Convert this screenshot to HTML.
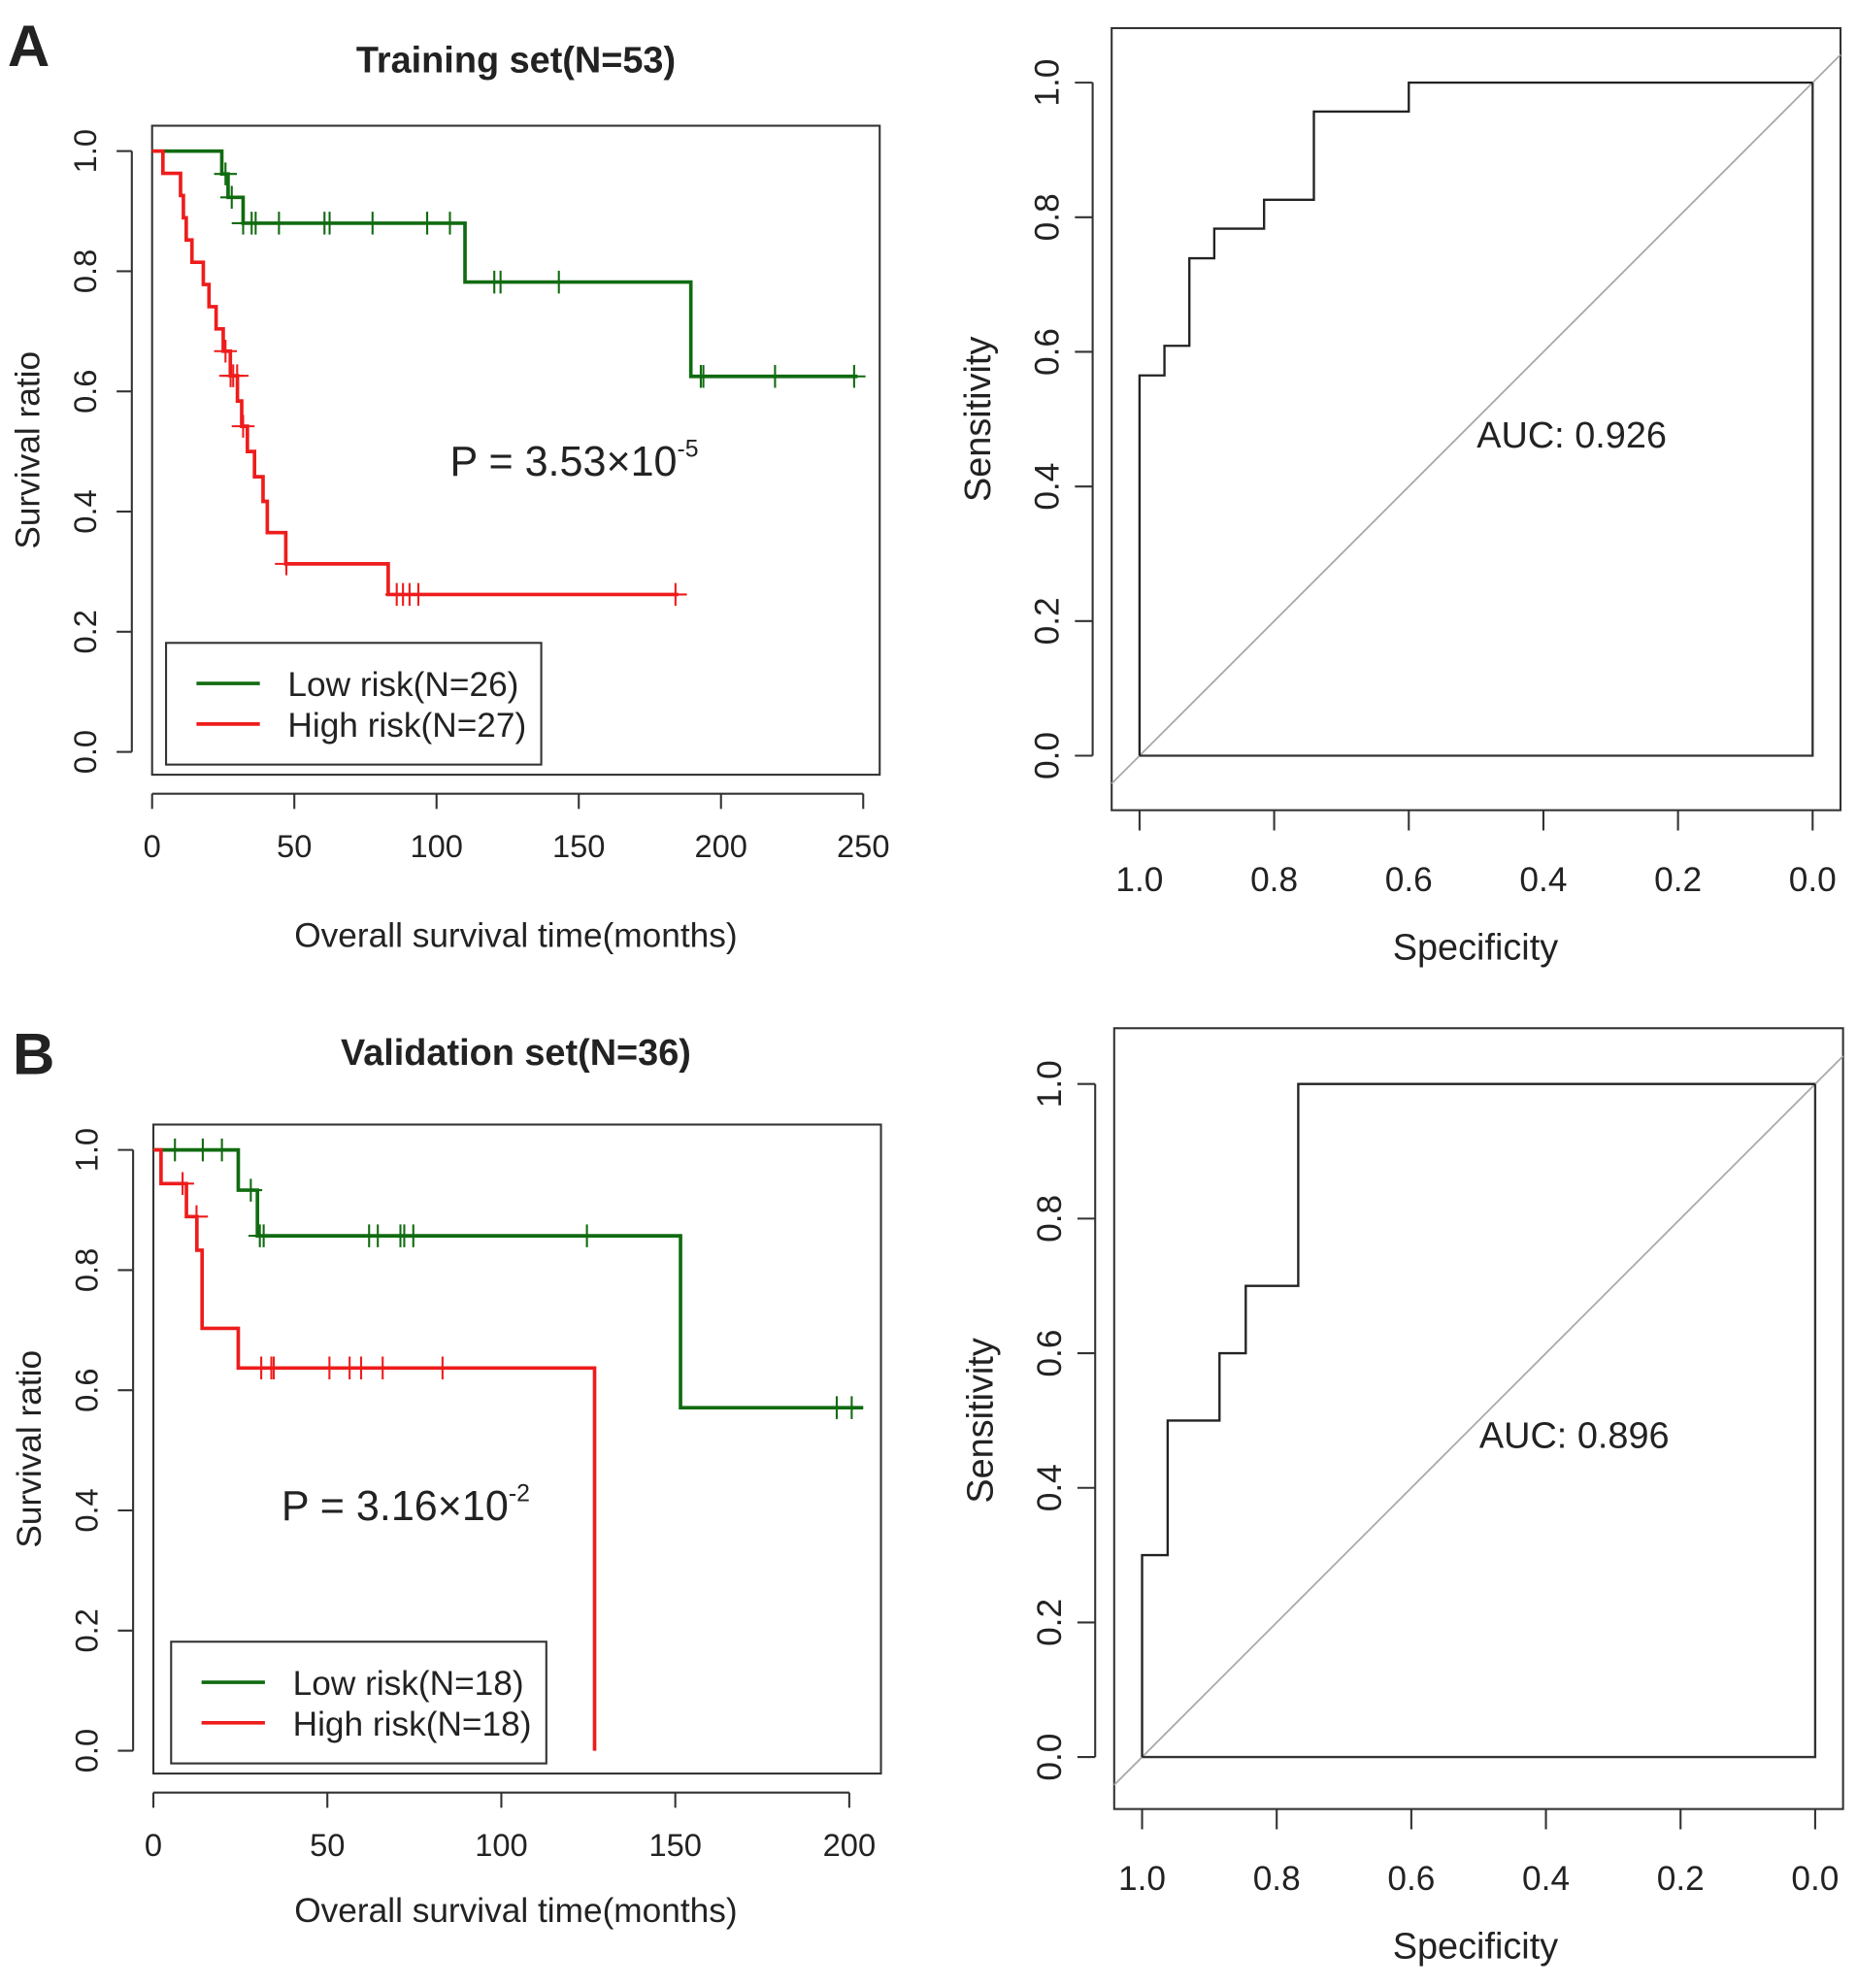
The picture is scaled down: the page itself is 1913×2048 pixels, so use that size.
<!DOCTYPE html>
<html><head><meta charset="utf-8"><style>
html,body{margin:0;padding:0;background:#fff}
svg{display:block}
text{font-family:"Liberation Sans",Arial,sans-serif;fill:#222}
</style></head><body>
<svg id="fig" width="1913" height="2048" viewBox="0 0 1465 1568" xmlns="http://www.w3.org/2000/svg"></svg>
<script>
// Panel A KM data
const kmA_lowTimes = [0, 24.5, 26.7, 32, 110, 189.4];
const kmA_lowSurv  = [1, 0.962, 0.923, 0.88, 0.782, 0.625];
const kmA_lowEnd = 248;
const kmA_lowCens = [25.8, 28, 32, 35, 36.4, 44.6, 60.6, 62.4, 77.5, 96.7, 104.7, 120.3, 122.5, 143, 192.9, 193.8, 219, 246.8];
const kmA_highTimes = [0, 3.8, 10, 11, 12, 14, 18, 20, 22.5, 25, 27.5, 30, 31.5, 33.5, 36, 39, 40.5, 47, 83];
const kmA_highSurv  = [1, 0.963, 0.926, 0.889, 0.852, 0.815, 0.778, 0.741, 0.704, 0.667, 0.626, 0.584, 0.542, 0.5, 0.458, 0.417, 0.365, 0.313, 0.262];
const kmA_highEnd = 185;
const kmA_highCens = [25.8, 27.6, 28.5, 29.9, 32, 47.2, 86, 88.2, 90.5, 93.6, 184];
const kmA_xTicks = [0, 50, 100, 150, 200, 250];
const kmYTicks = [0, 0.2, 0.4, 0.6, 0.8, 1.0];
// Panel B KM data
const kmB_lowTimes = [0, 24.4, 29.9, 151.5];
const kmB_lowSurv  = [1, 0.933, 0.857, 0.571];
const kmB_lowEnd = 204;
const kmB_lowCens = [6.2, 14.2, 19.7, 28, 30.6, 31.7, 62, 64.5, 71, 72.1, 74.7, 124.6, 196.4, 200.7];
const kmB_highTimes = [0, 2.2, 9.5, 12.5, 14, 24.4, 126.8];
const kmB_highSurv  = [1, 0.944, 0.889, 0.833, 0.703, 0.637, 0];
const kmB_highEnd = 126.8;
const kmB_highCens = [8.4, 12.4, 31, 33.9, 34.6, 50.6, 56.4, 59.7, 65.9, 83.1];
const kmB_xTicks = [0, 50, 100, 150, 200];
// ROC data (specificity, sensitivity)
const rocA_spec = [1, 1, 0.963, 0.963, 0.926, 0.926, 0.889, 0.889, 0.815, 0.815, 0.741, 0.741, 0.6, 0.6, 0];
const rocA_sens = [0, 0.565, 0.565, 0.609, 0.609, 0.739, 0.739, 0.783, 0.783, 0.826, 0.826, 0.957, 0.957, 1, 1];
const rocB_spec = [1, 1, 0.962, 0.962, 0.885, 0.885, 0.846, 0.846, 0.768, 0.768, 0];
const rocB_sens = [0, 0.3, 0.3, 0.5, 0.5, 0.6, 0.6, 0.7, 0.7, 1, 1];
const rocTicks = [1.0, 0.8, 0.6, 0.4, 0.2, 0.0];

const NS = "http://www.w3.org/2000/svg";
const svg = document.getElementById('fig');
function el(tag, attrs, parent, txt) {
  const e = document.createElementNS(NS, tag);
  for (const k in attrs) e.setAttribute(k, attrs[k]);
  if (txt !== undefined) e.textContent = txt;
  (parent || svg).appendChild(e);
  return e;
}
function grp(name) {
  const g = el('g', {});
  
  
  return g;
}
function rotText(g, x, y, s, size, name) {
  const t = el('text', {x: x, y: y, 'font-size': size, 'text-anchor': 'middle', transform: 'rotate(-90 ' + x + ' ' + y + ')'}, g, s);
  
  
  return t;
}

function drawKM(p) {
  const g = grp(p.name);
  const sx = v => p.x0 + (v - 0) * (p.x1 - p.x0) / p.xmax;
  const sy = v => p.y0 - v * (p.y0 - p.y1);
  const box = el('rect', {x: p.bx, y: p.by, width: p.bw, height: p.bh, fill: 'none', stroke: '#333', 'stroke-width': 1.6}, g);
  
  
  const xa = grp('x-axis'); g.appendChild(xa);
  const axY = p.by + p.bh + 15;
  el('line', {x1: sx(p.xTicks[0]), x2: sx(p.xTicks[p.xTicks.length - 1]), y1: axY, y2: axY, stroke: '#333', 'stroke-width': 1.6}, xa);
  p.xTicks.forEach(t => {
    el('line', {x1: sx(t), x2: sx(t), y1: axY, y2: axY + 12, stroke: '#333', 'stroke-width': 1.6}, xa);
    const tl = el('text', {x: sx(t), y: axY + 50, 'font-size': 25, 'text-anchor': 'middle'}, xa, String(t));
    
    
  });
  const xt = el('text', {x: 407, y: p.xty, 'font-size': 27, 'text-anchor': 'middle'}, g, 'Overall survival time(months)');
  
  
  const ya = grp('y-axis'); g.appendChild(ya);
  const axX = p.bx - 16;
  el('line', {x1: axX, x2: axX, y1: sy(0), y2: sy(1), stroke: '#333', 'stroke-width': 1.6}, ya);
  kmYTicks.forEach(t => {
    el('line', {x1: axX - 12, x2: axX, y1: sy(t), y2: sy(t), stroke: '#333', 'stroke-width': 1.6}, ya);
    rotText(ya, axX - 28, sy(t), t.toFixed(1), 25, 'y-tick-label');
  });
  rotText(g, p.bx - 89, (p.by + p.bh / 2), 'Survival ratio', 27, 'y-axis-title');
  function series(times, surv, end, cens, color, name) {
    const sg = grp(name); g.appendChild(sg);
    let d = 'M' + sx(times[0]) + ',' + sy(surv[0]);
    for (let i = 1; i < times.length; i++) {
      d += ' H' + sx(times[i]) + ' V' + sy(surv[i]);
    }
    d += ' H' + sx(end);
    const path = el('path', {d: d, fill: 'none', stroke: color, 'stroke-width': 2.8}, sg);
    
    
    cens.forEach(c => {
      let s = surv[0];
      for (let i = 0; i < times.length; i++) if (times[i] <= c) s = surv[i];
      const m = el('path', {d: 'M' + (sx(c) - 9) + ',' + sy(s) + ' H' + (sx(c) + 9) + ' M' + sx(c) + ',' + (sy(s) - 9) + ' V' + (sy(s) + 9), stroke: color, 'stroke-width': 1.6, fill: 'none'}, sg);
      
      
    });
  }
  series(p.lowT, p.lowS, p.lowEnd, p.lowC, '#106b10', 'low-risk-series');
  series(p.highT, p.highS, p.highEnd, p.highC, '#ee1c1c', 'high-risk-series');
  const lg = grp('legend'); g.appendChild(lg);
  el('rect', {x: p.lx, y: p.ly, width: 296, height: 96, fill: '#fff', stroke: '#333', 'stroke-width': 1.6}, lg);
  el('line', {x1: p.lx + 24, x2: p.lx + 74, y1: p.ly + 32, y2: p.ly + 32, stroke: '#106b10', 'stroke-width': 2.8}, lg);
  el('line', {x1: p.lx + 24, x2: p.lx + 74, y1: p.ly + 64, y2: p.ly + 64, stroke: '#ee1c1c', 'stroke-width': 2.8}, lg);
  const l1 = el('text', {x: p.lx + 96, y: p.ly + 42, 'font-size': 27}, lg, p.lowLabel);
  
  
  const l2 = el('text', {x: p.lx + 96, y: p.ly + 74, 'font-size': 27}, lg, p.highLabel);
  
  
  const pt = el('text', {x: p.px, y: p.py, 'font-size': 33}, g);
  
  
  pt.appendChild(document.createTextNode(p.pText));
  el('tspan', {'font-size': 19, dy: -15}, pt, p.pExp);
  const tt = el('text', {x: 407, y: p.ty, 'font-size': 29, 'font-weight': 'bold', 'text-anchor': 'middle'}, g, p.title);
  
  
}

function drawROC(p) {
  const g = grp(p.name);
  const sx = v => p.x1 + (p.x0 - p.x1) * v;
  const sy = v => p.y0 - v * (p.y0 - p.y1);
  const box = el('rect', {x: p.bx, y: p.by, width: p.bw, height: p.bh, fill: 'none', stroke: '#333', 'stroke-width': 1.6}, g);
  
  
  const ext = (p.x0 - p.bx) / (p.x1 - p.x0);
  const ext2 = (p.bx + p.bw - p.x1) / (p.x1 - p.x0);
  const diag = el('line', {x1: sx(1 + ext), y1: sy(-ext), x2: sx(-ext2), y2: sy(1 + ext2), stroke: '#aaa', 'stroke-width': 1.4}, g);
  
  
  el('path', {d: 'M' + sx(1) + ',' + sy(0) + ' H' + sx(0) + ' V' + sy(1), fill: 'none', stroke: '#333', 'stroke-width': 1.8}, g);
  let d = '';
  p.spec.forEach((s, i) => { d += (i ? ' L' : 'M') + sx(s) + ',' + sy(p.sens[i]); });
  const c = el('path', {d: d, fill: 'none', stroke: '#222', 'stroke-width': 1.8}, g);
  
  
  const xa = grp('x-axis'); g.appendChild(xa);
  const axY = p.by + p.bh;
  rocTicks.forEach(t => {
    el('line', {x1: sx(t), x2: sx(t), y1: axY, y2: axY + 16, stroke: '#333', 'stroke-width': 1.6}, xa);
    const tl = el('text', {x: sx(t), y: axY + 64, 'font-size': 27, 'text-anchor': 'middle'}, xa, t.toFixed(1));
    
    
  });
  const xt = el('text', {x: 1164, y: axY + 118, 'font-size': 29, 'text-anchor': 'middle'}, g, 'Specificity');
  
  
  const ya = grp('y-axis'); g.appendChild(ya);
  const axX = p.bx - 15;
  el('line', {x1: axX, x2: axX, y1: sy(0), y2: sy(1), stroke: '#333', 'stroke-width': 1.6}, ya);
  rocTicks.forEach(t => {
    el('line', {x1: axX - 14, x2: axX, y1: sy(t), y2: sy(t), stroke: '#333', 'stroke-width': 1.6}, ya);
    rotText(ya, axX - 27, sy(t), t.toFixed(1), 27, 'y-tick-label');
  });
  rotText(g, p.bx - 96, (sy(0) + sy(1)) / 2, 'Sensitivity', 29, 'y-axis-title');
  const at = el('text', {x: p.ax, y: p.ay, 'font-size': 29}, g, p.auc);
  
  
}

drawKM({name: 'km-training', bx: 120, by: 99, bw: 574, bh: 512, x0: 120, x1: 681, xmax: 250, y0: 593, y1: 119,
  xTicks: kmA_xTicks, lowT: kmA_lowTimes, lowS: kmA_lowSurv, lowEnd: kmA_lowEnd, lowC: kmA_lowCens,
  highT: kmA_highTimes, highS: kmA_highSurv, highEnd: kmA_highEnd, highC: kmA_highCens,
  lx: 131, ly: 507, lowLabel: 'Low risk(N=26)', highLabel: 'High risk(N=27)',
  px: 355, py: 375, pText: 'P = 3.53×10', pExp: '-5', title: 'Training set(N=53)', ty: 57, xty: 747});
drawKM({name: 'km-validation', bx: 121, by: 887, bw: 574, bh: 512, x0: 121, x1: 670, xmax: 200, y0: 1381, y1: 907,
  xTicks: kmB_xTicks, lowT: kmB_lowTimes, lowS: kmB_lowSurv, lowEnd: kmB_lowEnd, lowC: kmB_lowCens,
  highT: kmB_highTimes, highS: kmB_highSurv, highEnd: kmB_highEnd, highC: kmB_highCens,
  lx: 135, ly: 1295, lowLabel: 'Low risk(N=18)', highLabel: 'High risk(N=18)',
  px: 222, py: 1199, pText: 'P = 3.16×10', pExp: '-2', title: 'Validation set(N=36)', ty: 840, xty: 1516});
drawROC({name: 'roc-training', bx: 877, by: 22, bw: 575, bh: 617, x0: 899, x1: 1430, y0: 596, y1: 65,
  spec: rocA_spec, sens: rocA_sens, ax: 1165, ay: 353, auc: 'AUC: 0.926'});
drawROC({name: 'roc-validation', bx: 879, by: 811, bw: 575, bh: 616, x0: 901, x1: 1432, y0: 1386, y1: 855,
  spec: rocB_spec, sens: rocB_sens, ax: 1167, ay: 1142, auc: 'AUC: 0.896'});

const A = el('text', {x: 6, y: 52, 'font-size': 46, 'font-weight': 'bold'}, svg, 'A');


const B = el('text', {x: 10, y: 847, 'font-size': 46, 'font-weight': 'bold'}, svg, 'B');


</script>
</body></html>
